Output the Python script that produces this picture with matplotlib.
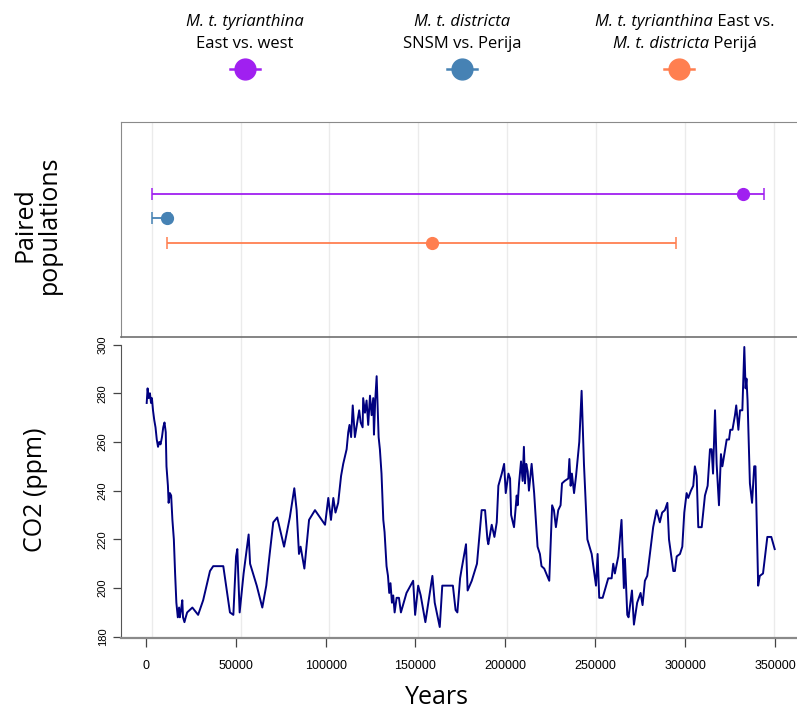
import matplotlib
matplotlib.use("Agg")
import matplotlib.pyplot as plt
from matplotlib.lines import Line2D
from matplotlib.ticker import FormatStrFormatter

# divergence time estimates (years) for each pair of populations
pair_colors = ["#A020F0", "#4682B4", "#FF7F50"]
pair_est = [332600, 8700, 157700]
pair_low = [0, 200, 8700]
pair_high = [344400, 10500, 295000]
pair_rows = [3, 2, 1]

# CO2 record (years before present, ppm)
co2_years = [500, 1000, 1600, 2300, 2900, 3400, 4000, 4700, 5400, 6100, 6800, 7500,
             8200, 9000, 9700, 10400, 11100, 11500, 12300, 12700, 13400, 14100, 14800,
             15600, 16300, 17000, 17800, 18500, 18900, 19600, 20300, 20700, 21500, 22200,
             23000, 25900, 29100, 31900, 35700, 37500, 43100, 46800, 48700, 50200, 50900,
             52200, 54400, 57200, 58000, 61700, 64800, 67000, 68900, 70900, 73100, 76900,
             80100, 82600, 83900, 85200, 86100, 88200, 90800, 94100, 99700, 101500, 103000,
             104300, 105500, 107000, 108600, 109800, 111700, 112600, 113300, 114200, 115100,
             116300, 117600, 118700, 119500, 120600, 120900, 121900, 122800, 123700, 124700,
             125600, 126500, 126900, 127600, 128400, 128900, 129500, 130200, 131100, 132100,
             132800, 133900, 134700, 135400, 136100, 136900, 137600, 138400, 139500, 140800,
             141900, 145000, 148700, 149800, 151500, 152900, 155500, 159400, 160700, 163500,
             164900, 167100, 169000, 170800, 172300, 173300, 174800, 175700, 178100, 179000,
             181300, 184200, 186800, 188700, 190000, 190500, 192400, 193900, 195200, 196100,
             198000, 199300, 200200, 201700, 202600, 203200, 204800, 206300, 206800, 207600,
             208700, 209600, 210300, 210900, 211600, 212400, 213100, 214600, 216000, 217900,
             219200, 220100, 221600, 224400, 226000, 227000, 228100, 229400, 230700, 231500,
             233000, 235000, 235600, 236300, 237000, 238200, 239300, 241100, 242400, 243700,
             245600, 248000, 250400, 251300, 252200, 254100, 257200, 259100, 260000, 260900,
             262800, 264600, 265900, 266500, 267800, 268500, 270400, 271500, 273300, 275200,
             276300, 277600, 278900, 282200, 284100, 285900, 287200, 288700, 290100, 291000,
             292100, 293400, 294300, 295300, 297100, 298400, 299500, 300800, 301700, 303200,
             304500, 305400, 306400, 307300, 308200, 309200, 311000, 312500, 313800, 314700,
             315500, 316600, 317500, 318800, 319900, 320700, 322200, 323100, 324400, 325100,
             326300, 327700, 328400, 329600, 330500, 331800, 332900, 333600, 334100, 334700,
             336000, 337200, 338400, 339100, 340600, 341500, 343300, 345700, 347900, 349800]
co2_ppm = [276, 282, 278, 280, 276, 278, 273, 269, 266, 261, 258, 260,
           259, 262, 266, 268, 264, 250, 242, 235, 239, 238, 228,
           220, 206, 194, 188, 192, 188, 191, 195, 188, 186, 188,
           190, 192, 189, 195, 207, 209, 209, 190, 189, 213, 216,
           190, 206, 222, 210, 201, 192, 201, 214, 227, 229, 217,
           229, 241, 232, 214, 217, 208, 228, 232, 226, 237, 228,
           237, 231, 235, 246, 251, 257, 264, 267, 262, 275,
           262, 268, 273, 268, 266, 278, 272, 277, 267, 279,
           271, 278, 263, 277, 287, 275, 262, 257, 247, 228,
           223, 209, 205, 198, 202, 194, 197, 190, 196, 196,
           190, 198, 203, 189, 201, 197, 186, 205, 194, 184,
           201, 201, 201, 201, 191, 190, 204, 208, 218, 199,
           203, 210, 232, 232, 220, 218, 226, 221, 227, 242,
           247, 251, 239, 247, 245, 230, 225, 238, 234, 243,
           252, 244, 258, 243, 251, 248, 240, 251, 239, 217,
           214, 209, 208, 203, 234, 232, 225, 232, 234, 243,
           244, 245, 253, 242, 247, 239, 246, 260, 281, 251,
           220, 214, 201, 214, 196, 196, 204, 204, 210, 206,
           213, 228, 200, 212, 189, 188, 199, 185, 194, 198,
           193, 203, 205, 225, 232, 227, 231, 232, 235, 220,
           214, 207, 207, 213, 214, 217, 231, 239, 237, 240,
           242, 250, 246, 225, 225, 225, 238, 242, 257, 257,
           247, 273, 251, 234, 255, 250, 257, 261, 261, 265,
           265, 271, 275, 265, 273, 273, 299, 282, 286, 277,
           243, 235, 250, 250, 201, 205, 206, 221, 221, 216]

# legend text, split in (text, italic) pieces per line
legend_lines = [
    [[("M. t. tyrianthina", True)], [("East vs. west", False)]],
    [[("M. t. districta", True)], [("SNSM vs. Perija", False)]],
    [[("M. t. tyrianthina", True), (" East vs.", False)],
     [("M. t. districta", True), (" Perijá", False)]],
]

W, H = 797, 713
fig = plt.figure(figsize=(W / 100, H / 100), dpi=100)

def box(left, top, right, bottom):
    return [left / W, 1 - bottom / H, (right - left) / W, (bottom - top) / H]

grid_col = "#ebebeb"
frame_col = "#8a8a8a"

# background with the vertical grid running through both panels
ax_bg = fig.add_axes(box(121, 122, 797, 637))
ax_bg.set_xlim(-17210, 362970)
ax_bg.set_xticks(range(0, 400000, 50000))
ax_bg.grid(axis="x", color=grid_col, lw=1)
ax_bg.set_yticks([])
ax_bg.tick_params(length=0, labelbottom=False)
for s in ax_bg.spines.values():
    s.set_visible(False)

# top panel: divergence estimates
ax_top = fig.add_axes(box(121, 122, 797, 336.5))
ax_top.patch.set_alpha(0)
ax_top.set_xlim(-17210, 362970)
ax_top.set_ylim(-2.82, 5.94)
for i in range(3):
    ax_top.errorbar(pair_est[i], pair_rows[i],
                    xerr=[[pair_est[i] - pair_low[i]], [pair_high[i] - pair_est[i]]],
                    fmt="o", color=pair_colors[i], ms=8.5, elinewidth=1.3,
                    capsize=4.3, capthick=1.1, ecolor=pair_colors[i])
ax_top.set_xticks([])
ax_top.set_yticks([])
ax_top.spines["right"].set_visible(False)
ax_top.spines["left"].set_color(frame_col)
ax_top.spines["top"].set_color(frame_col)
ax_top.spines["bottom"].set_color("#6f6f6f")
ax_top.spines["bottom"].set_linewidth(1.2)

# bottom panel: CO2
ax_bot = fig.add_axes(box(121, 336.5, 797, 638))
ax_bot.patch.set_alpha(0)
ax_bot.plot(co2_years, co2_ppm, color="#000080", lw=1.4)
ax_bot.set_xlim(-13794, 362200)
ax_bot.set_ylim(179.5, 303.3)
ax_bot.set_xticks(range(0, 400000, 50000))
ax_bot.set_yticks(range(180, 320, 20))
ax_bot.xaxis.set_major_formatter(FormatStrFormatter("%d"))
ax_bot.spines["right"].set_visible(False)
ax_bot.spines["top"].set_visible(False)
ax_bot.spines["left"].set_bounds(180, 300)
ax_bot.spines["left"].set_color("#555555")
ax_bot.spines["bottom"].set_color(frame_col)
ax_bot.spines["bottom"].set_linewidth(1.6)
ax_bot.tick_params(axis="x", length=6.5, width=0.9, color="#444444", pad=9,
                   labelsize=9, labelfontfamily="Liberation Sans")
ax_bot.tick_params(axis="y", length=5.5, width=0.9, color="#444444", pad=4,
                   labelsize=8, labelfontfamily="Liberation Sans", labelrotation=90)
for lab in ax_bot.get_yticklabels():
    lab.set_va("center")

# axis titles
fig.text(37 / W, 1 - 225 / H, "Paired\npopulations", rotation=90, ha="center", va="center",
         fontsize=18, family="Open Sans", linespacing=1.0, multialignment="center")
fig.text(35 / W, 1 - 490 / H, "CO2 (ppm)", rotation=90, ha="center", va="center",
         fontsize=18, family="Open Sans")
fig.text(437 / W, 1 - 698 / H, "Years", ha="center", va="center",
         fontsize=18, family="Open Sans")

# legend on top: mixed italic / upright pieces, centred per line
renderer = fig.canvas.get_renderer()

def centred_line(cx, cy, pieces):
    texts = []
    for s, it in pieces:
        t = fig.text(0, cy / 1.0, s, fontsize=12, family="Open Sans",
                     style="italic" if it else "normal", va="center", ha="left",
                     transform=None)
        texts.append(t)
    widths = [t.get_window_extent(renderer).width for t in texts]
    x = cx - sum(widths) / 2
    for t, w in zip(texts, widths):
        t.set_position((x, cy))
        x += w

legend_x = [245, 462, 685]
marker_x = [245, 462, 679]
for i in range(3):
    centred_line(legend_x[i], H - 22, legend_lines[i][0])
    centred_line(legend_x[i], H - 44, legend_lines[i][1])
    mx, my = marker_x[i] / W, 1 - 69 / H
    fig.add_artist(Line2D([mx - 15 / W, mx + 15 / W], [my, my], transform=fig.transFigure,
                          color=pair_colors[i], lw=1.8))
    fig.add_artist(Line2D([mx], [my], transform=fig.transFigure, marker="o", ms=15,
                          color=pair_colors[i], lw=0))

fig.savefig("out.png", dpi=100)
